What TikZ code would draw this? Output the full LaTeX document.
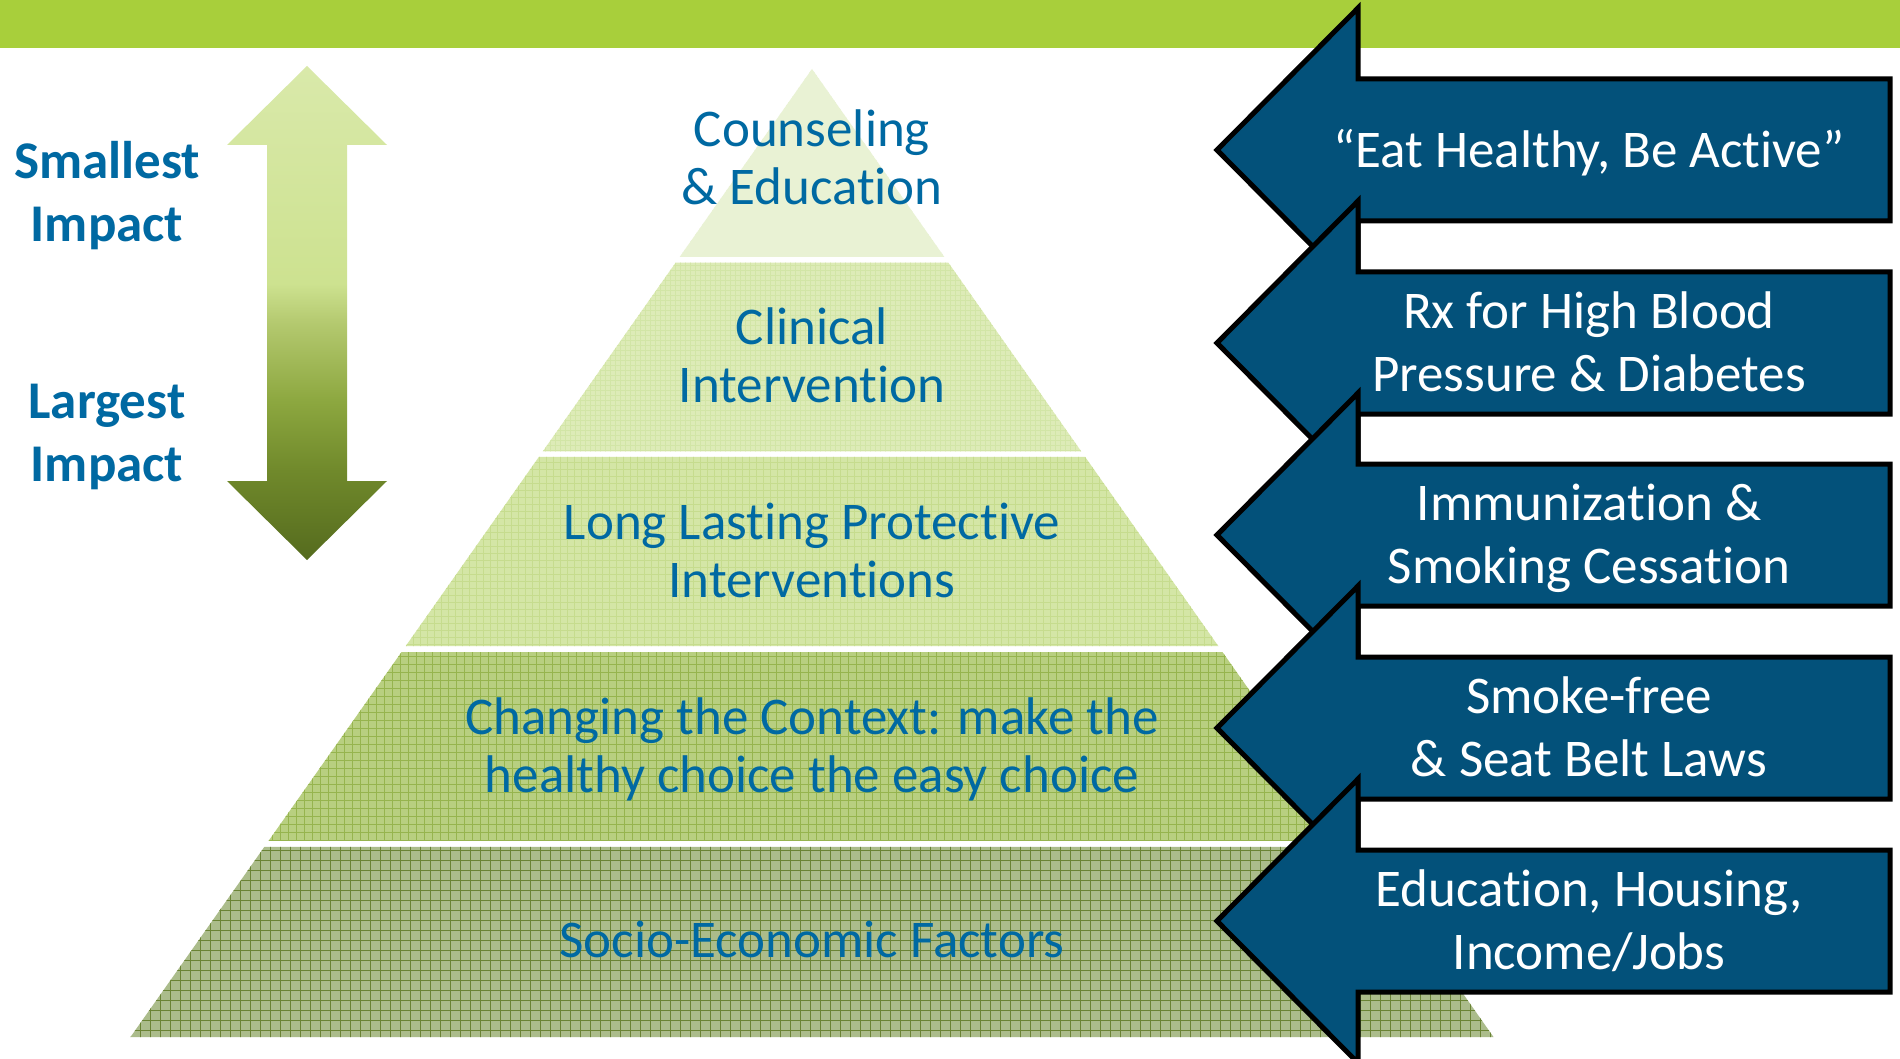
\documentclass[tikz,border=0pt]{standalone}
\usepackage{fontspec}
\setmainfont{Carlito}[RawFeature=-liga]
\usetikzlibrary{calc}
\definecolor{topbar}{HTML}{A8CF3B}
\definecolor{txtblue}{HTML}{0069A2}
\definecolor{arrblue}{HTML}{03517A}
\definecolor{arr0}{HTML}{D9E9AA}
\definecolor{arr1}{HTML}{CDE290}
\definecolor{arr2}{HTML}{B4C96F}
\definecolor{arr3}{HTML}{8CA73F}
\definecolor{arr4}{HTML}{70892B}
\definecolor{arrD}{HTML}{556B1E}
\definecolor{tA}{HTML}{E9F2D4}
\definecolor{tB}{HTML}{DDEBB7}
\definecolor{tBl}{HTML}{D2E5A6}
\definecolor{tC}{HTML}{D4E6A6}
\definecolor{tCl}{HTML}{C6DC8E}
\definecolor{tD}{HTML}{B8CF80}
\definecolor{tDl}{HTML}{96B44E}
\definecolor{tE}{HTML}{ABBC8B}
\definecolor{tEl}{HTML}{6A8334}
\pgfdeclareverticalshading{impactshade}{100bp}{color(0bp)=(arrD); color(25bp)=(arrD); color(34bp)=(arr4); color(41bp)=(arr3); color(49bp)=(arr2); color(53bp)=(arr1); color(75bp)=(arr0); color(100bp)=(arr0)}
\newcommand{\pyrtier}[6]{%
  \fill[#3] ($(apex)!#1!(bl)$) -- ($(apex)!#2!(bl)$) -- ($(apex)!#2!(br)$) -- ($(apex)!#1!(br)$) -- cycle;
  \begin{scope}
    \clip ($(apex)!#1!(bl)$) -- ($(apex)!#2!(bl)$) -- ($(apex)!#2!(br)$) -- ($(apex)!#1!(br)$) -- cycle;
    \draw[#4, line width=#6pt] (100,40) grid[step=#5pt] (1520,1050);
  \end{scope}}
\newcommand{\leftarrowshape}[1]{%
  \draw[arrowshape] (1217,#1) -- (1358,{#1-142}) -- (1358,{#1-71}) -- (1890,{#1-71}) -- (1890,{#1+71}) -- (1358,{#1+71}) -- (1358,{#1+142}) -- cycle;}
\begin{document}
\begin{tikzpicture}[x=1pt,y=-1pt,
  pyrtext/.style={font=\fontsize{53}{58}\selectfont, text=txtblue, align=center, inner sep=0pt},
  arrtext/.style={font=\fontsize{53}{63}\selectfont, text=white, align=center, inner sep=0pt},
  sidetext/.style={font=\bfseries\fontsize{53}{63}\selectfont, text=txtblue, align=center, inner sep=0pt},
  arrowshape/.style={fill=arrblue, draw=black, line width=5pt, line join=miter}]
\useasboundingbox (0,0) rectangle (1900,1059);
\fill[white] (0,0) rectangle (1900,1059);
% top bar
\fill[topbar] (0,0) rectangle (1900,48);
% double arrow
\shade[shading=impactshade] (307,66) -- (387,145) -- (347,145) -- (347,481) -- (387,481) -- (307,560) -- (227,481) -- (267,481) -- (267,145) -- (227,145) -- cycle;
% side labels
\node[sidetext, anchor=base] (smallest) at (107,242) {Smallest\\Impact};
\node[sidetext, anchor=base] (largest) at (107,481) {Largest\\Impact};
% pyramid
\coordinate (apex) at (812,69);
\coordinate (bl) at (130.5,1037);
\coordinate (br) at (1493.5,1037);
\pyrtier{0}{0.1942}{tA}{tA}{6}{0.5}
\pyrtier{0.1999}{0.3951}{tB}{tBl}{5}{0.7}
\pyrtier{0.4008}{0.5961}{tC}{tCl}{7}{0.8}
\pyrtier{0.6023}{0.7975}{tD}{tDl}{8}{0.8}
\pyrtier{0.8037}{1}{tE}{tEl}{10}{0.9}
\node[pyrtext, anchor=base] (counsel) at (812,205) {Counseling\\\& Education};
\node[pyrtext, anchor=base] (clinical) at (812,402) {Clinical\\Intervention};
\node[pyrtext, anchor=base] (longlast) at (812,597) {Long Lasting Protective\\Interventions};
\node[pyrtext, anchor=base] (context) at (812,792) {Changing the Context: make the\\healthy choice the easy choice};
\node[pyrtext, anchor=base] (socio) at (812,957) {Socio-Economic Factors};
% right arrows
\leftarrowshape{150}
\node[arrtext, anchor=base] (eat) at (1589,168) {“Eat Healthy, Be Active”};
\leftarrowshape{343}
\node[arrtext, anchor=base] (rx) at (1589,391.5) {Rx for High Blood\\Pressure \& Diabetes};
\leftarrowshape{535}
\node[arrtext, anchor=base] (immun) at (1589,583.5) {Immunization \&\\Smoking Cessation};
\leftarrowshape{728}
\node[arrtext, anchor=base] (smoke) at (1589,776.5) {Smoke-free\\\& Seat Belt Laws};
\leftarrowshape{921}
\node[arrtext, anchor=base] (educ) at (1589,969.5) {Education, Housing,\\Income/Jobs};
\end{tikzpicture}
\end{document}
